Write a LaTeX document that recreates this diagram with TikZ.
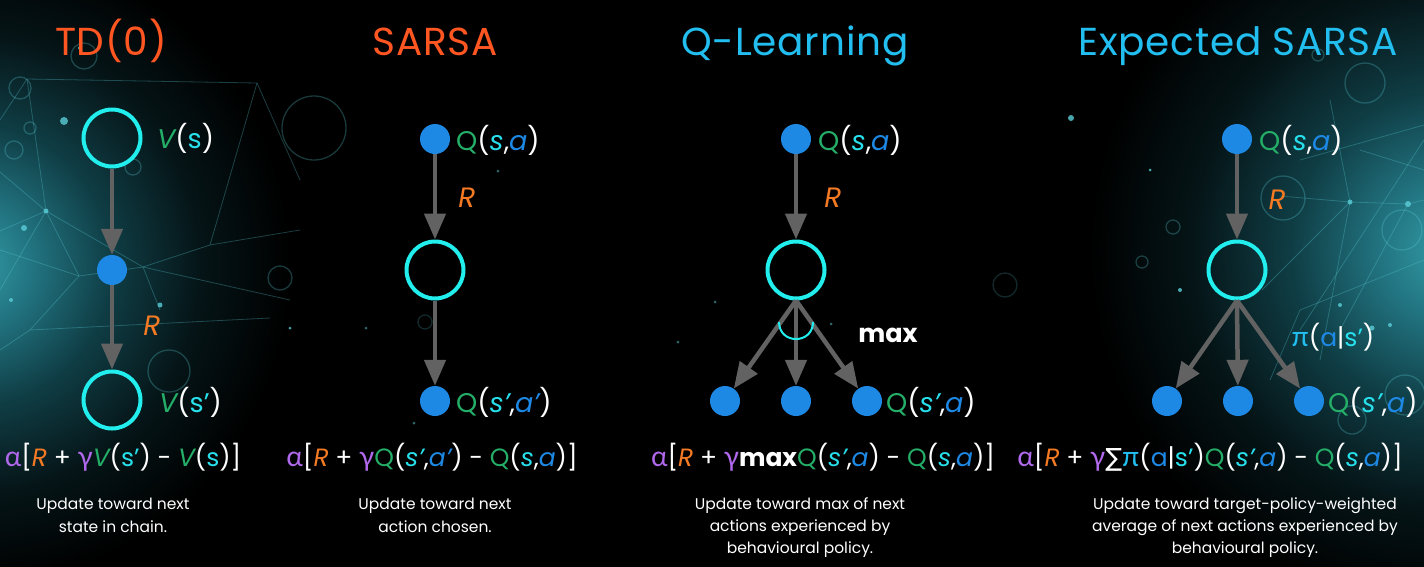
\documentclass[tikz,border=0pt]{standalone}
\usepackage{fontspec}
\setmainfont{Poppins}
\newfontfamily\grk[Scale=1.12]{Lato}
\newfontfamily\symf{DejaVu Sans}
\usetikzlibrary{arrows.meta}
\definecolor{ringc}{RGB}{34,238,238}
\definecolor{dotc}{RGB}{30,136,229}
\definecolor{arrc}{RGB}{98,98,98}
\definecolor{ttlO}{RGB}{255,86,34}
\definecolor{ttlB}{RGB}{34,190,240}
\definecolor{grn}{RGB}{36,174,104}
\definecolor{cyn}{RGB}{40,224,236}
\definecolor{blu}{RGB}{30,136,229}
\definecolor{org}{RGB}{244,122,36}
\definecolor{pur}{RGB}{176,104,236}
\definecolor{net}{RGB}{90,205,215}
\pgfdeclareradialshading{glowA}{\pgfpoint{0bp}{0bp}}{rgb(0bp)=(0.20,0.62,0.66); rgb(5bp)=(0.13,0.45,0.50); rgb(11bp)=(0.06,0.24,0.27); rgb(18bp)=(0.02,0.08,0.09); rgb(25bp)=(0,0,0); rgb(50bp)=(0,0,0)}
\newcommand{\xV}{\textcolor{grn}{\itshape V}}
\newcommand{\xQ}{\textcolor{grn}{Q}}
\newcommand{\xs}{\textcolor{cyn}{\itshape s}}
\newcommand{\xsp}{\textcolor{cyn}{\itshape s’}}
\newcommand{\xsu}{\textcolor{cyn}{s}}
\newcommand{\xsup}{\textcolor{cyn}{s’}}
\newcommand{\xa}{\textcolor{blu}{\itshape a}}
\newcommand{\xap}{\textcolor{blu}{\itshape a’}}
\newcommand{\xau}{\textcolor{blu}{a}}
\newcommand{\xR}{\textcolor{org}{\itshape R}}
\newcommand{\xal}{\textcolor{pur}{\grk α}}
\newcommand{\xga}{\textcolor{pur}{\grk γ}}
\newcommand{\xpi}{\textcolor{ttlB}{\grk π}}
\newcommand{\xsum}{{\symf ∑}}
\begin{document}
\begin{tikzpicture}[x=1pt,y=-1pt,
  ring/.style={circle,draw=ringc,line width=4pt,minimum size=57pt,inner sep=0pt},
  dot/.style={circle,fill=dotc,minimum size=30pt,inner sep=0pt},
  arr/.style={draw=arrc,line width=4.5pt,-{Triangle[length=26pt,width=21pt]}},
  ttl/.style={anchor=base,inner sep=0pt,font=\fontsize{39}{40}\selectfont\addfontfeature{LetterSpace=2}},
  lbl/.style={anchor=base west,text=white,inner sep=0pt,font=\fontsize{27}{30}\selectfont},
  rl/.style={anchor=base,inner sep=0pt,text=org,font=\fontsize{28}{30}\selectfont\itshape},
  frm/.style={anchor=base,text=white,inner sep=0pt,font=\fontsize{25}{28}\selectfont},
  dsc/.style={anchor=base,text=white,inner sep=0pt,font=\fontsize{15.5}{20}\selectfont},
  netl/.style={draw=net,opacity=0.30,line width=0.8pt},
  netc/.style={draw=net,opacity=0.28,line width=1.3pt},
  spark/.style={fill=net,opacity=0.8}
]
% ---------- background ----------
\useasboundingbox (0,0) rectangle (1424,566);
\fill[black] (-10,-10) rectangle (1434,576);
\shade[shading=glowA] (-30,265) circle (320pt);
\shade[shading=glowA] (1450,250) circle (360pt);
% left network
\draw[netl] (27,79) -- (257,83) -- (300,180);
\draw[netl] (27,79) -- (46,211) -- (0,231);
\draw[netl] (27,79) -- (0,120);
\draw[netl] (46,211) -- (143,267) -- (210,245) -- (257,83);
\draw[netl] (0,172) -- (46,211) -- (79,276) -- (30,330) -- (0,350);
\draw[netl] (79,276) -- (143,267) -- (290,300);
\draw[netl] (30,330) -- (270,318);
\draw[netl] (0,250) -- (79,276);
\draw[netl] (143,267) -- (160,310);
\draw[netl] (46,211) -- (0,290);
\draw[netl] (210,245) -- (300,230);
\draw[netc] (314,128) circle (32pt);
\draw[netc] (84,56) circle (13pt);
\draw[netc] (20,88) circle (11pt);
\draw[netc] (133,167) circle (8pt);
\draw[netc] (169,371) circle (21pt);
\draw[netc] (280,278) circle (12pt);
\draw[netc] (14,150) circle (9pt);
\draw[netc] (30,128) circle (6pt);
\fill[spark] (64,121) circle (4pt);
\fill[spark] (24,228) circle (3pt);
\fill[spark] (46,211) circle (2.5pt);
\fill[spark] (160,305) circle (2.5pt);
\fill[spark] (80,48) circle (2pt);
\fill[spark] (290,328) circle (1.5pt);
\fill[spark] (11,300) circle (2pt);
% right network
\draw[netl] (1280,196) -- (1350,202) -- (1408,204) -- (1424,200);
\draw[netl] (1350,202) -- (1320,360);
\draw[netl] (1408,204) -- (1340,330);
\draw[netl] (1350,202) -- (1262,290);
\draw[netl] (1424,140) -- (1300,330);
\draw[netl] (1300,160) -- (1424,125);
\draw[netl] (1330,100) -- (1350,202);
\draw[netl] (1424,260) -- (1300,310) -- (1270,380);
\draw[netl] (1360,150) -- (1424,170);
\draw[netc] (1365,83) circle (20pt);
\draw[netc] (1283,198) circle (22pt);
\draw[netc] (1402,230) circle (20pt);
\draw[netc] (1173,227) circle (7pt);
\draw[netc] (1142,262) circle (6pt);
\draw[netc] (1405,395) circle (20pt);
\draw[netc] (1352,420) circle (14pt);
\draw[netc] (1318,55) circle (6pt);
\fill[spark] (1071,118) circle (3pt);
\fill[spark] (1350,202) circle (2.5pt);
\fill[spark] (1408,204) circle (3pt);
\fill[spark] (1372,328) circle (2.5pt);
\fill[spark] (1390,325) circle (2pt);
\fill[spark] (1340,305) circle (2pt);
\fill[spark] (1180,290) circle (2pt);
\fill[spark] (1150,170) circle (1.5pt);
% faint sparks in the middle
\fill[spark,opacity=0.5] (366,328) circle (1.5pt);
\fill[spark,opacity=0.5] (414,423) circle (1.5pt);
\fill[spark,opacity=0.5] (715,302) circle (1.5pt);
\fill[spark,opacity=0.5] (831,324) circle (1.5pt);
\fill[spark,opacity=0.5] (498,171) circle (1.5pt);
\fill[spark,opacity=0.5] (678,342) circle (1.5pt);
\draw[netc,opacity=0.2] (1005,285) circle (12pt);
\draw[netc,opacity=0.2] (425,322) circle (7pt);

% ---------- TD(0) ----------
\node[ttl,text=ttlO] (tdT) at (111,55) {TD(0)};
\node[ring] (tdA) at (112,138) {};
\node[dot] (tdB) at (112,270) {};
\node[ring] (tdC) at (112,400) {};
\draw[arr] (tdA) -- (tdB);
\draw[arr] (tdB) -- (tdC);
\node[lbl] (tdLa) at (157,148) {\xV(\xsu)};
\node[rl] (tdR) at (152,335) {R};
\node[lbl] (tdLc) at (159,412) {\xV(\xsup)};
\node[frm] (tdF) at (123,466) {\xal[\xR{} + \xga\xV(\xsup) - \xV(\xsu)]};
\node[dsc] (tdD1) at (113,509) {Update toward next};
\node[dsc] (tdD2) at (113,532) {state in chain.};

% ---------- SARSA ----------
\node[ttl,text=ttlO] (saT) at (435,55) {SARSA};
\node[dot] (saA) at (435,139) {};
\node[ring] (saB) at (435,270) {};
\node[dot] (saC) at (435,401) {};
\draw[arr] (saA) -- (saB);
\draw[arr] (saB) -- (saC);
\node[lbl] (saLa) at (456,150) {\xQ(\xs,\xa)};
\node[rl] (saR) at (467,207) {R};
\node[lbl] (saLc) at (456,412) {\xQ(\xsp,\xap)};
\node[frm] (saF) at (432,466) {\xal[\xR{} + \xga\xQ(\xsp,\xap) - \xQ(\xs,\xa)]};
\node[dsc] (saD1) at (435,509) {Update toward next};
\node[dsc] (saD2) at (435,532) {action chosen.};

% ---------- Q-Learning ----------
\node[ttl,text=ttlB] (qlT) at (795,55) {Q-Learning};
\node[dot] (qlA) at (796,139) {};
\node[ring] (qlB) at (796,270) {};
\node[dot] (qlC1) at (725,401) {};
\node[dot] (qlC2) at (796,401) {};
\node[dot] (qlC3) at (867,401) {};
\draw[arr] (qlA) -- (qlB);
\draw[arr] (qlB.south) -- (qlC1);
\draw[arr] (qlB.south) -- (qlC2);
\draw[arr] (qlB.south) -- (qlC3);
\coordinate (qlMa) at (779,322);
\coordinate (qlMb) at (813,322);
\draw[ringc,line width=2pt] (qlMa) .. controls (779,344.7) and (813,344.7) .. (qlMb);
\node[lbl] (qlLa) at (818,150) {\xQ(\xs,\xa)};
\node[rl] (qlR) at (833,207) {R};
\node[anchor=base,inner sep=0pt,text=white,font=\fontsize{25.5}{28}\selectfont\bfseries] (qlMax) at (888,342) {max};
\node[lbl] (qlLc) at (886,412) {\xQ(\xsp,\xa)};
\node[frm] (qlF) at (823,466) {\xal[\xR{} + \xga\textbf{max}\xQ(\xsp,\xa) - \xQ(\xs,\xa)]};
\node[dsc] (qlD1) at (800,509) {Update toward max of next};
\node[dsc] (qlD2) at (800,531) {actions experienced by};
\node[dsc] (qlD3) at (800,553) {behavioural policy.};

% ---------- Expected SARSA ----------
\node[ttl,text=ttlB] (esT) at (1238,55) {Expected SARSA};
\node[dot] (esA) at (1237,139) {};
\node[ring] (esB) at (1237,270) {};
\node[dot] (esC1) at (1167,401) {};
\node[dot] (esC2) at (1238,401) {};
\node[dot] (esC3) at (1309,401) {};
\draw[arr] (esA) -- (esB);
\draw[arr] (esB.south) -- (esC1);
\draw[arr] (esB.south) -- (esC2);
\draw[arr] (esB.south) -- (esC3);
\node[lbl] (esLa) at (1259,150) {\xQ(\xs,\xa)};
\node[rl] (esR) at (1277,209) {R};
\node[anchor=base,inner sep=0pt,text=white,font=\fontsize{25}{28}\selectfont] (esPi) at (1333,346) {\xpi(\xau|\xsup)};
\node[lbl] (esLc) at (1328,412) {\xQ(\xsp,\xa)};
\node[frm] (esF) at (1210,466) {\xal[\xR{} + \xga\xsum\xpi(\xau|\xsup)\xQ(\xsp,\xa) - \xQ(\xs,\xa)]};
\node[dsc] (esD1) at (1245,509) {Update toward target-policy-weighted};
\node[dsc] (esD2) at (1245,531) {average of next actions experienced by};
\node[dsc] (esD3) at (1245,553) {behavioural policy.};
\end{tikzpicture}
\end{document}
